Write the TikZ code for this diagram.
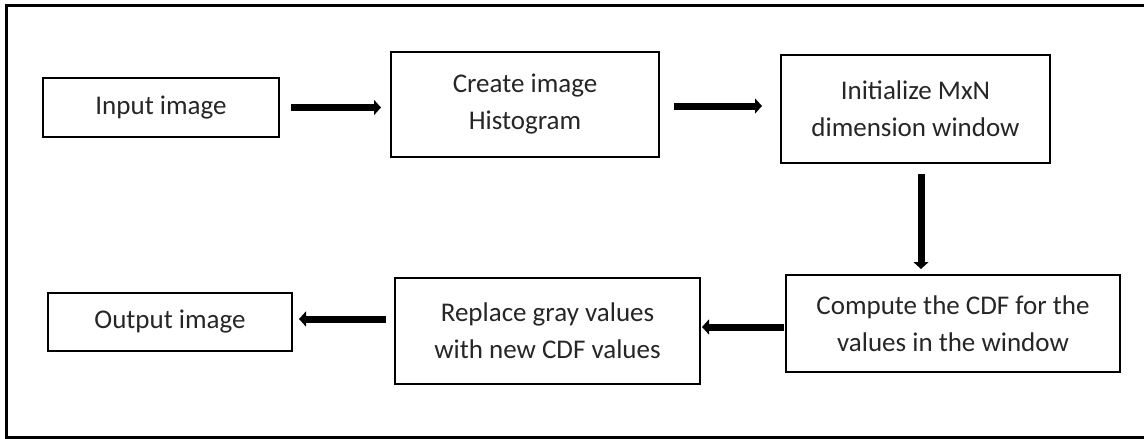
\documentclass[tikz,border=0pt]{standalone}
\usepackage{fontspec}
\setmainfont{Carlito}
\usetikzlibrary{arrows.meta,calc}
\begin{document}
\begin{tikzpicture}[x=1pt,y=-1pt,
  box/.style={draw=black, line width=2pt, rectangle, inner sep=0pt, align=center,
    text=black!85, font=\fontsize{27}{37}\selectfont},
  flow/.style={line width=7pt, -{Triangle[length=7pt,width=15pt]}}]
\useasboundingbox (0,0) rectangle (1144,439);
\draw[line width=3pt] (1144,5.5) -- (6.5,5.5) -- (6.5,437.5) -- (1144,437.5);
\node[box, minimum width=236pt, minimum height=59pt] (in) at (161,107.5) {Input image};
\node[box, minimum width=268pt, minimum height=105pt] (hist) at (525,104.5) {Create image\\Histogram};
\node[box, minimum width=269pt, minimum height=108pt] (init) at (915.5,109) {Initialize MxN\\dimension window};
\node[box, minimum width=334pt, minimum height=97pt] (cdf) at (953,323.5) {Compute the CDF for the\\values in the window};
\node[box, minimum width=305pt, minimum height=106pt] (rep) at (547.5,331) {Replace gray values\\with new CDF values};
\node[box, minimum width=244pt, minimum height=58pt] (out) at (170,322) {Output image};
\draw[flow, shorten <=11pt, shorten >=9pt] (in.east) -- (in.east -| hist.west);
\draw[flow, shorten <=14pt, shorten >=18pt] ([yshift=-1.5pt]hist.east) -- ([yshift=-1.5pt]hist.east -| init.west);
\draw[flow, shorten <=10pt, shorten >=5pt] ([xshift=5.5pt]init.south) -- ([xshift=5.5pt]init.south |- cdf.north);
\draw[flow, shorten <=1pt, shorten >=1pt] ([yshift=-3.5pt]cdf.west) -- ([yshift=-3.5pt]cdf.west -| rep.east);
\draw[flow, shorten <=8pt, shorten >=6pt] ([yshift=3pt]out.east -| rep.west) -- ([yshift=3pt]out.east);
\end{tikzpicture}
\end{document}
